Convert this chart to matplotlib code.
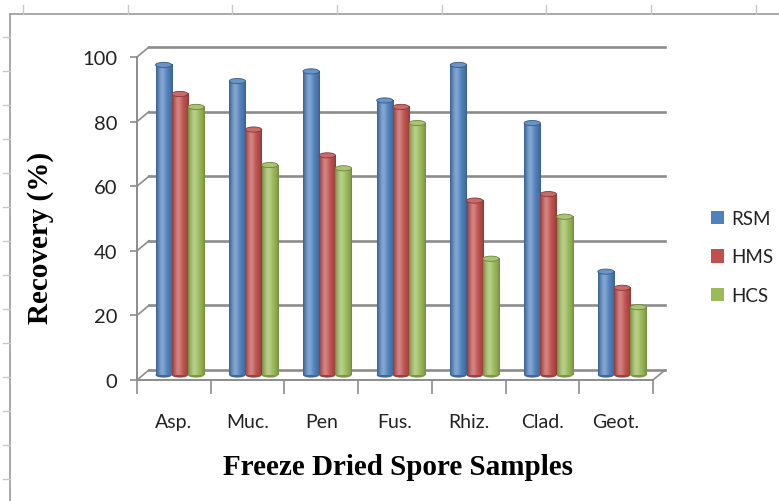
import numpy as np
import matplotlib
matplotlib.use("Agg")
import matplotlib.pyplot as plt
from matplotlib import transforms
from matplotlib.patches import Ellipse, Patch
from matplotlib.lines import Line2D
from matplotlib.colors import to_rgb

# --- data ---
samples = ["Asp.", "Muc.", "Pen", "Fus.", "Rhiz.", "Clad.", "Geot."]
rsm = [96, 91, 94, 85, 96, 78, 32]
hms = [87, 76, 68, 83, 54, 56, 27]
hcs = [83, 65, 64, 78, 36, 49, 21]
series = ["RSM", "HMS", "HCS"]
colors = ["#4F81BD", "#C0504D", "#9BBB59"]
y_ticks = [0, 20, 40, 60, 80, 100]

W, H = 779, 502
GRID = "#8c8c8c"
SANS = "Lato"


def cylinder(col, n=40):
    """horizontal shading that makes a flat bar look like a cylinder"""
    base = np.array(to_rgb(col))
    t = np.linspace(0, 1, n)
    hi = np.exp(-((t - 0.36) / 0.22) ** 2)
    dark = 0.72 + 0.28 * np.sin(np.pi * t) ** 0.6
    rgb = base[None, :] * dark[:, None]
    rgb = rgb + (1 - rgb) * 0.30 * hi[:, None]
    return np.clip(rgb[None, :, :], 0, 1)


fig = plt.figure(figsize=(W / 100, H / 100), dpi=100)
fig.patch.set_facecolor("white")

# spreadsheet border + cell marks round the chart
fig.add_artist(Line2D([10 / W, 1], [1 - 15 / H, 1 - 15 / H], color="#9a9a9a", lw=1.2))
fig.add_artist(Line2D([10 / W, 10 / W], [0, 1 - 15 / H], color="#9a9a9a", lw=1.2))
for x in [23, 128, 232, 337, 442, 546, 651, 756]:
    fig.add_artist(Line2D([x / W, x / W], [1 - 15 / H, 1 - 6 / H], color="#c8c8c8", lw=1))
for y in range(38, 500, 34):
    fig.add_artist(Line2D([3 / W, 10 / W], [1 - y / H, 1 - y / H], color="#c8c8c8", lw=1))

n = len(samples)
ax = fig.add_axes([137 / W, (H - 381) / H, 516 / W, 323 / H])
ax.set_xlim(0, n)
ax.set_ylim(0, 100)

back = transforms.offset_copy(ax.transData, fig=fig, x=12, y=10, units="dots")
mid = transforms.offset_copy(ax.transData, fig=fig, x=6, y=5, units="dots")
dxu = 12 * n / 516.0
dyu = 10 * 100 / 323.0

# back wall gridlines and the little slanted joins to the front axis
for v in y_ticks:
    ax.plot([0, n], [v, v], transform=back, color=GRID, lw=1.9, clip_on=False, zorder=1)
    ax.plot([0, dxu], [v, v + dyu], color=GRID, lw=1.2, clip_on=False, zorder=1)
ax.plot([n, n + dxu], [0, dyu], color=GRID, lw=1.2, clip_on=False, zorder=1)

# bars
width = 0.22
cap = 1.6
for i, (name, vals, col) in enumerate(zip(series, [rsm, hms, hcs], colors)):
    xs = np.arange(n) + 0.5 + (i - 1) * width
    img = cylinder(col)
    base = np.array(to_rgb(col))
    for x, v in zip(xs, vals):
        ax.imshow(img, extent=(x - width / 2, x + width / 2, 0, v), transform=mid,
                  aspect="auto", interpolation="bilinear", zorder=3, clip_on=False)
        ax.add_patch(Ellipse((x, v), width, cap, transform=mid, clip_on=False,
                             facecolor=base + (1 - base) * 0.15, edgecolor=base * 0.7,
                             lw=0.6, zorder=4))
        ax.add_patch(Ellipse((x, 0), width, cap, transform=mid, clip_on=False,
                             facecolor=base * 0.8, edgecolor="none", zorder=2.9))

ax.set_xlim(0, n)
ax.set_ylim(0, 100)

for s in ["top", "right"]:
    ax.spines[s].set_visible(False)
for s in ["left", "bottom"]:
    ax.spines[s].set_color(GRID)
    ax.spines[s].set_linewidth(1.4)

ax.set_yticks(y_ticks)
ax.set_yticklabels([str(v) for v in y_ticks], fontsize=14.5, family=SANS, color="#222222")
ax.tick_params(axis="y", length=5, width=1.2, color=GRID, pad=9)

ax.set_xticks(np.arange(n) + 0.5)
ax.set_xticklabels(samples, fontsize=14, family=SANS, color="#222222")
ax.set_xticks(np.arange(n + 1), minor=True)
ax.tick_params(axis="x", which="major", length=0, pad=24)
ax.tick_params(axis="x", which="minor", length=10, width=1.2, color=GRID)

fig.text(41 / W, 1 - 238 / H, "Recovery (%)", rotation=90, ha="center", va="center",
         family="Liberation Serif", weight="bold", fontsize=21)
fig.text(398 / W, 1 - 468 / H, "Freeze Dried Spore Samples", ha="center", va="center",
         family="Liberation Serif", weight="bold", fontsize=21)

handles = [Patch(facecolor=c, edgecolor="none") for c in colors]
leg = fig.legend(handles, series, loc="center left", bbox_to_anchor=(711 / W, 1 - 258 / H),
                 frameon=False, borderpad=0, borderaxespad=0,
                 handlelength=0.7, handleheight=0.7, handletextpad=0.4,
                 labelspacing=1.15, prop={"family": SANS, "size": 13.5})
for t in leg.get_texts():
    t.set_color("#222222")

fig.savefig("out.png", dpi=100, facecolor="white")
